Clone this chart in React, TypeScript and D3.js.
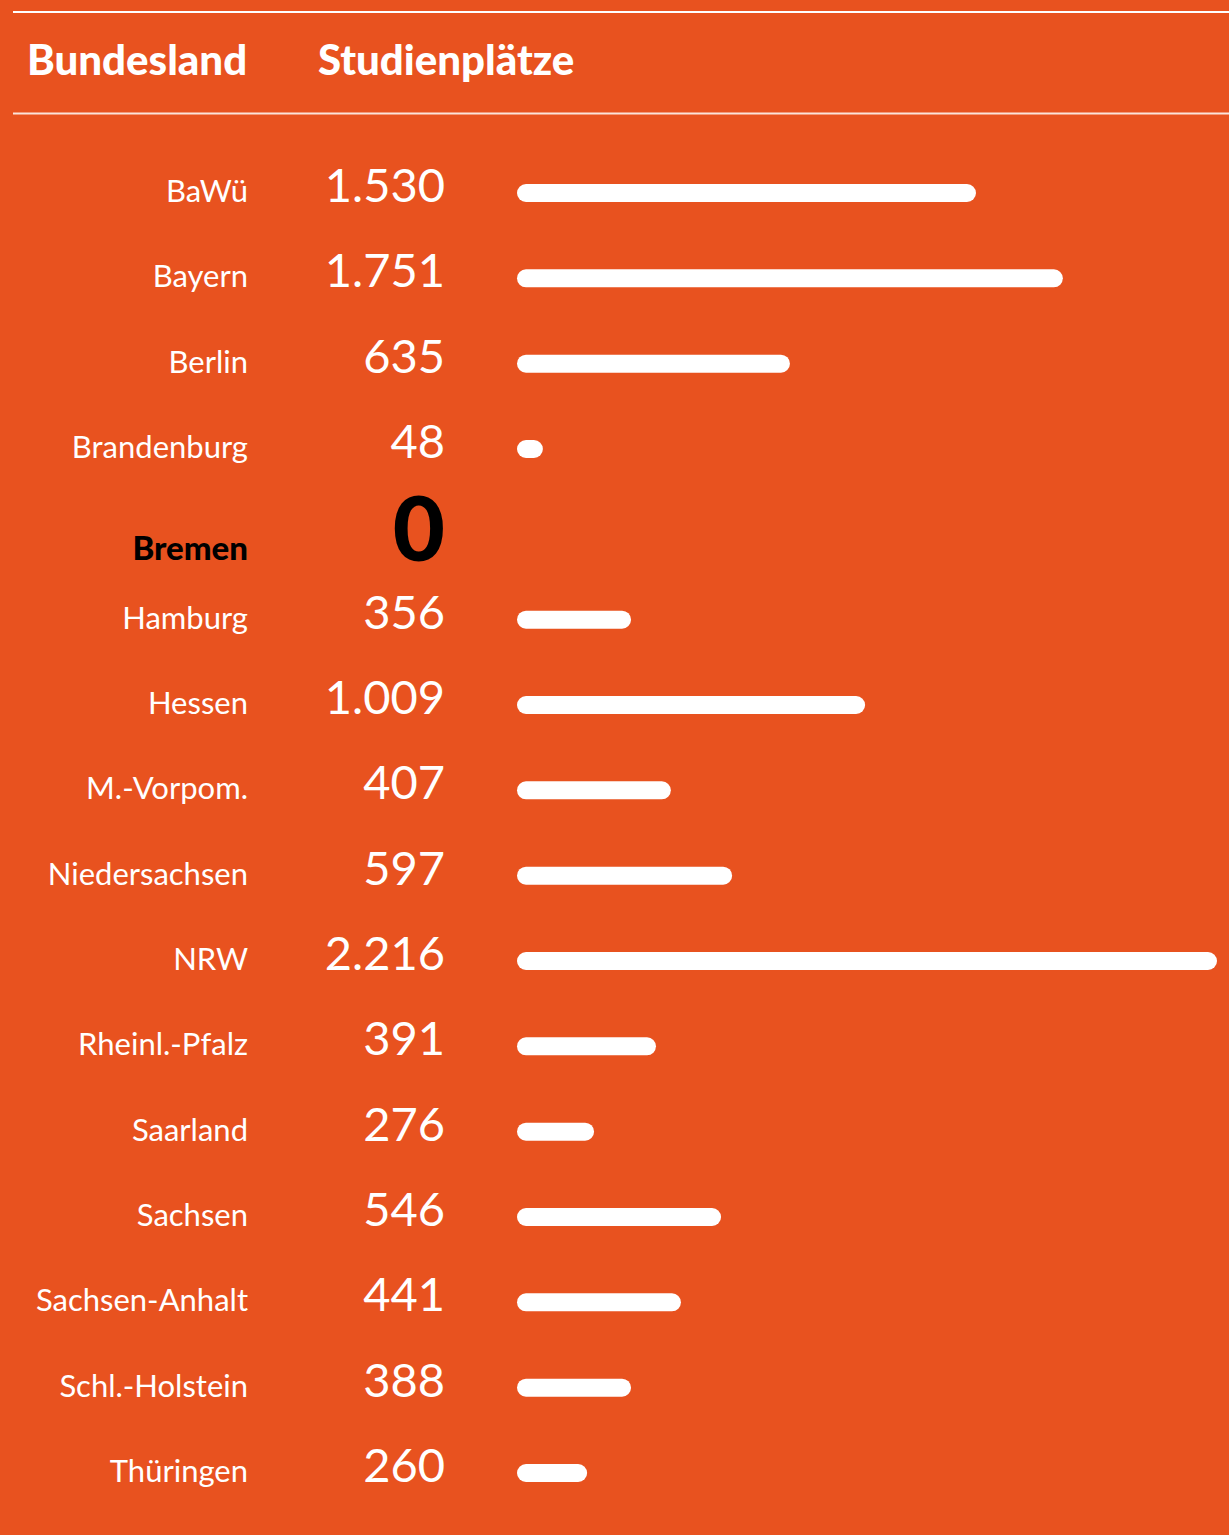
import React from "react";
import * as d3 from "d3";

// Categories (Bundesländer)
const states = [
  "BaWü", "Bayern", "Berlin", "Brandenburg", "Bremen", "Hamburg", "Hessen",
  "M.-Vorpom.", "Niedersachsen", "NRW", "Rheinl.-Pfalz", "Saarland",
  "Sachsen", "Sachsen-Anhalt", "Schl.-Holstein", "Thüringen",
];
// Printed numbers (Studienplätze)
const valueLabels = [
  "1.530", "1.751", "635", "48", "0", "356", "1.009", "407", "597",
  "2.216", "391", "276", "546", "441", "388", "260",
];
// Bar lengths as drawn in the picture, read in the same unit (Studienplätze)
const barValues = [
  1453, 1728, 864, 82, 0, 361, 1102, 487, 681, 2216, 440, 244, 646, 519, 361, 222,
];
const highlighted = "Bremen";
const headers = ["Bundesland", "Studienplätze"];

const W = 1229;
const H = 1535;
const BG = "#E8521F";
const FONT = "Lato, 'Open Sans', sans-serif";

export default function App() {
  const y = d3
    .scalePoint<string>()
    .domain(states)
    .range([193, 1473]);
  const x = d3.scaleLinear().domain([0, d3.max(barValues) as number]).range([0, 700]);
  const barX = 517;
  const barH = 18;

  return (
    <svg
      width={W}
      height={H}
      style={{ position: "absolute", left: 0, top: 0, display: "block" }}
    >
      <rect x={0} y={0} width={W} height={H} fill={BG} />
      <line x1={13} x2={W} y1={12} y2={12} stroke="#fff" strokeWidth={2} />
      <line x1={13} x2={W} y1={113.5} y2={113.5} stroke="#fbe3da" strokeWidth={2} />
      <text x={27} y={75} fill="#fff" fontFamily={FONT} fontWeight={900} fontSize={42}>
        {headers[0]}
      </text>
      <text x={318} y={75} fill="#fff" fontFamily={FONT} fontWeight={900} fontSize={42}>
        {headers[1]}
      </text>
      {states.map((s, i) => {
        const cy = y(s) as number;
        const isHi = s === highlighted;
        return (
          <g key={s}>
            <text
              x={248}
              y={isHi ? cy + 26 : cy + 9}
              textAnchor="end"
              fill={isHi ? "#000" : "#fff"}
              fontFamily={FONT}
              fontWeight={isHi ? 900 : 400}
              fontSize={isHi ? 33 : 31}
            >
              {s}
            </text>
            <text
              x={445}
              y={isHi ? cy + 27 : cy + 9}
              textAnchor="end"
              fill={isHi ? "#000" : "#fff"}
              fontFamily={FONT}
              fontWeight={isHi ? 900 : 400}
              fontSize={isHi ? 90 : 47}
            >
              {valueLabels[i]}
            </text>
            {barValues[i] > 0 && (
              <rect
                x={barX}
                y={cy - barH / 2}
                width={x(barValues[i])}
                height={barH}
                rx={barH / 2}
                ry={barH / 2}
                fill="#fff"
              />
            )}
          </g>
        );
      })}
    </svg>
  );
}
